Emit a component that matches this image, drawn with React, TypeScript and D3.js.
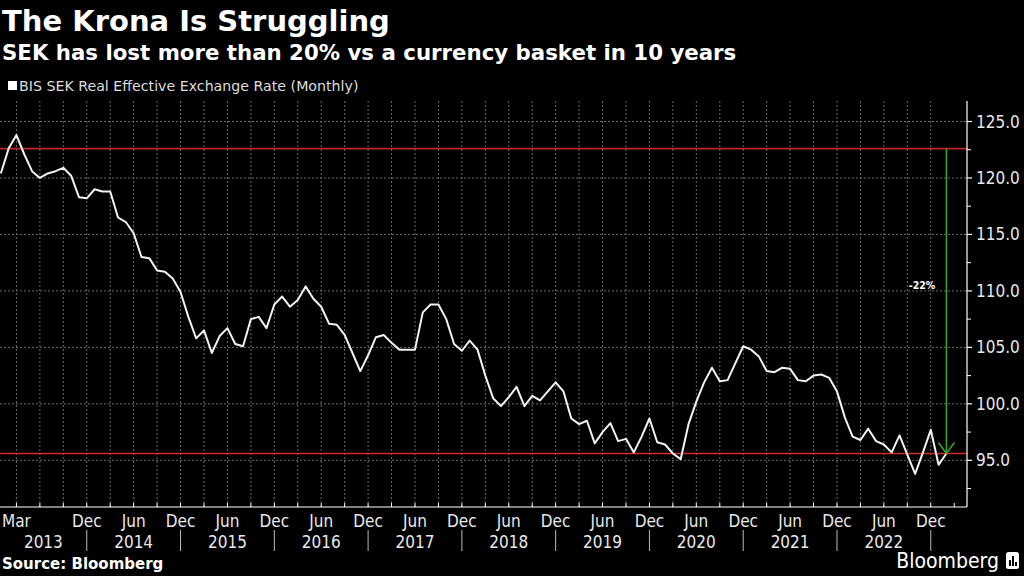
import React from "react";
import * as d3 from "d3";

const title = "The Krona Is Struggling";
const subtitle = "SEK has lost more than 20% vs a currency basket in 10 years";
const legendLabel = "BIS SEK Real Effective Exchange Rate (Monthly)";
const sourceLabel = "Source: Bloomberg";
const changeLabel = "-22%";

// Monthly values, Jan 2013 .. Feb 2023
const startYear = 2013;
const rate = [
  120.4, 122.6, 123.8, 122.1, 120.6, 120.0, 120.4, 120.6, 120.9, 120.2, 118.3, 118.2,
  119.0, 118.8, 118.8, 116.5, 116.1, 115.1, 113.0, 112.9, 111.8, 111.7, 111.1, 109.9,
  107.7, 105.8, 106.5, 104.5, 106.0, 106.7, 105.3, 105.1, 107.5, 107.7, 106.7, 108.8,
  109.5, 108.6, 109.2, 110.4, 109.3, 108.6, 107.1, 107.0, 106.1, 104.5, 102.9, 104.3,
  105.9, 106.1, 105.4, 104.8, 104.8, 104.8, 108.1, 108.8, 108.8, 107.5, 105.3, 104.7,
  105.6, 104.8, 102.5, 100.5, 99.8, 100.6, 101.5, 99.8, 100.7, 100.3, 101.1, 101.9,
  101.1, 98.7, 98.2, 98.5, 96.5, 97.5, 98.3, 96.7, 96.9, 95.7, 97.1, 98.7,
  96.6, 96.4, 95.6, 95.1, 98.2, 100.2, 101.9, 103.2, 102.0, 102.1, 103.6, 105.1,
  104.8, 104.2, 102.9, 102.8, 103.2, 103.1, 102.1, 102.0, 102.5, 102.6, 102.3, 101.1,
  98.8, 97.1, 96.8, 97.8, 96.7, 96.4, 95.7, 97.2, 95.5, 93.8, 95.7, 97.7,
  94.6, 95.6,
];
const yTicks = [95, 100, 105, 110, 115, 120, 125];
const monthNames = ["Jan", "Feb", "Mar", "Apr", "May", "Jun", "Jul", "Aug", "Sep", "Oct", "Nov", "Dec"];
const yearLabels = ["2013", "2014", "2015", "2016", "2017", "2018", "2019", "2020", "2021", "2022"];

const FONT = "'DejaVu Sans Condensed', 'DejaVu Sans', sans-serif";
const FONT_WIDE = "'DejaVu Sans', sans-serif";

export default function App() {
  const left = 0, right = 967, top = 101, bottom = 507;
  const n = rate.length;
  const x = d3.scaleLinear().domain([0, n - 1]).range([0.8, 946.4]);
  const y = d3.scaleLinear().domain([95, 125]).range([460.3, 121.5]);
  const line = d3.line<number>().x((_, i) => x(i)).y((d) => y(d));

  const quarterIdx = d3.range(2, n, 3).filter((i) => x(i) < right - 20);
  const labelIdx = [2, ...d3.range(11, n, 6)];
  const decIdx = d3.range(11, n, 12);
  const minorY = d3.range(92.5, 126, 2.5).filter((v) => y(v) > top && y(v) < bottom);

  const startVal = rate[1];
  const endVal = rate[n - 1];
  const arrowX = x(n - 1);

  return (
    <svg
      width={1024}
      height={576}
      style={{ position: "fixed", left: 0, top: 0, background: "#000" }}
      fontFamily={FONT}
    >
      <rect x={0} y={0} width={1024} height={576} fill="#000" />
      <text x={2} y={31} fill="#fff" fontSize={29} fontWeight="bold" fontFamily={FONT_WIDE}>{title}</text>
      <text x={2} y={60} fill="#fff" fontSize={21.3} fontWeight="bold" fontFamily={FONT_WIDE}>{subtitle}</text>
      <rect x={8} y={81} width={9} height={9} fill="#fff" />
      <text x={19} y={91} fill="#ddd" fontSize={14.2} fontFamily={FONT_WIDE}>{legendLabel}</text>

      {/* grid */}
      {yTicks.map((v) => (
        <line key={"gy" + v} x1={left} x2={right} y1={y(v)} y2={y(v)} stroke="#6a6a6a" strokeWidth={1} strokeDasharray="2,2" />
      ))}
      {quarterIdx.map((i) => (
        <line key={"gx" + i} x1={x(i)} x2={x(i)} y1={top} y2={bottom} stroke="#6a6a6a" strokeWidth={1} strokeDasharray="2,2" />
      ))}

      {/* reference lines */}
      <line x1={left} x2={right} y1={y(startVal)} y2={y(startVal)} stroke="#c4222a" strokeWidth={1.8} />
      <line x1={left} x2={right} y1={y(endVal)} y2={y(endVal)} stroke="#d42a2a" strokeWidth={1.5} />

      {/* series */}
      <path d={line(rate) || ""} fill="none" stroke="#f2f2f2" strokeWidth={2} strokeLinejoin="round" />

      {/* arrow */}
      <line x1={arrowX} x2={arrowX} y1={y(startVal)} y2={y(endVal)} stroke="#30a830" strokeWidth={1.5} />
      <polyline
        points={`${arrowX - 8},${y(endVal) - 11} ${arrowX},${y(endVal)} ${arrowX + 8},${y(endVal) - 11}`}
        fill="none"
        stroke="#30a830"
        strokeWidth={1.5}
      />
      <text x={922} y={289} fill="#fff" fontSize={10.5} fontWeight="bold" textAnchor="middle">{changeLabel}</text>

      {/* right axis */}
      <line x1={right} x2={right} y1={top} y2={bottom} stroke="#fff" strokeWidth={1.2} />
      {yTicks.map((v) => (
        <g key={"yt" + v}>
          <line x1={right} x2={right + 5} y1={y(v)} y2={y(v)} stroke="#fff" strokeWidth={1.2} />
          <text x={976} y={y(v) + 6} fill="#e8e8e8" fontSize={17}>{v.toFixed(1)}</text>
        </g>
      ))}
      {minorY.filter((v) => v % 5 !== 0).map((v) => (
        <line key={"ym" + v} x1={right} x2={right + 4} y1={y(v)} y2={y(v)} stroke="#fff" strokeWidth={1} />
      ))}

      {/* bottom axis */}
      <line x1={left} x2={right} y1={bottom} y2={bottom} stroke="#fff" strokeWidth={1.2} />
      {d3.range(2, n + 1, 3).map((i) => (
        <line key={"xt" + i} x1={x(i)} x2={x(i)} y1={bottom - 4} y2={bottom} stroke="#fff" strokeWidth={1} />
      ))}
      {labelIdx.map((i) => (
        <text key={"ml" + i} x={x(i)} y={527} fill="#e8e8e8" fontSize={17} textAnchor="middle">
          {monthNames[i % 12]}
        </text>
      ))}
      {decIdx.map((i) => (
        <line key={"ys" + i} x1={x(i)} x2={x(i)} y1={530} y2={551} stroke="#bbb" strokeWidth={1} />
      ))}
      {yearLabels.map((yr, k) => {
        const cx = k === 0 ? (0 + x(11)) / 2 : x(17 + (k - 1) * 12);
        return (
          <text key={"yl" + yr} x={cx} y={548} fill="#e8e8e8" fontSize={17} textAnchor="middle">{yr}</text>
        );
      })}

      {/* footer */}
      <text x={2} y={569} fill="#fff" fontSize={15} fontWeight="bold" fontFamily={FONT_WIDE}>{sourceLabel}</text>
      <text x={999} y={568} fill="#fff" fontSize={21} textAnchor="end">Bloomberg</text>
      <rect x={1006} y={552} width={13} height={17} rx={2.5} fill="#fff" />
      <rect x={1009} y={560} width={2} height={6} fill="#000" />
      <rect x={1012} y={556} width={2} height={10} fill="#000" />
      <rect x={1015} y={562} width={2} height={4} fill="#000" />
    </svg>
  );
}
